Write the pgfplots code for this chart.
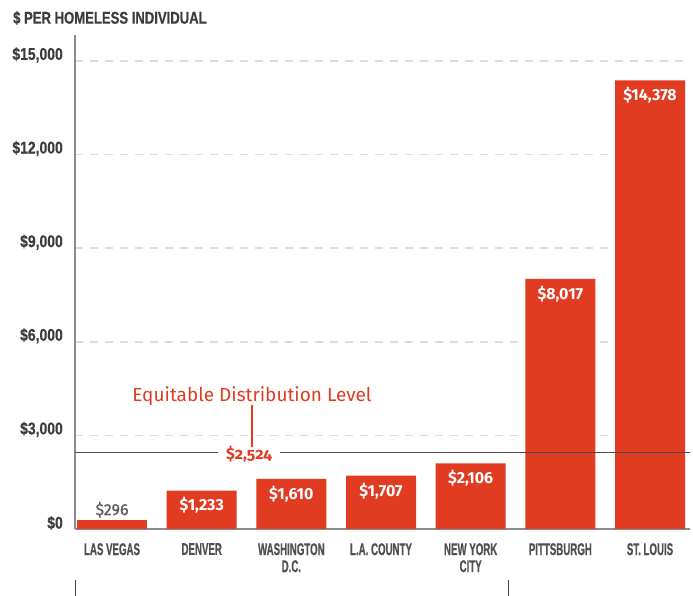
\documentclass[border=0pt]{standalone}
\usepackage{fontspec}
\setmainfont{Fira Sans}
\newfontfamily\condx[FakeStretch=0.57,FakeBold=0.6]{Liberation Sans}
\newfontfamily\condn[FakeStretch=0.82,FakeBold=0.4]{Liberation Sans}
\newfontfamily\condt[FakeStretch=0.77,FakeBold=0.5]{Liberation Sans}
\newfontfamily\fsold[Numbers=OldStyle]{Fira Sans}
\newfontfamily\fsmed[FakeBold=0.5]{Fira Sans}
\usepackage{pgfplots}
\pgfplotsset{compat=1.18}
\definecolor{barred}{HTML}{E13B22}
\definecolor{txt}{HTML}{3C3C3C}
\definecolor{grd}{HTML}{DDDDDD}
\definecolor{axc}{HTML}{8C8C8C}
\begin{document}
\begin{tikzpicture}
\useasboundingbox (-75pt,-67pt) rectangle (618pt,529pt);
\begin{axis}[
  at={(0,0)}, anchor=south west, scale only axis,
  width=615pt, height=494pt,
  xmin=-0.413, xmax=6.446, ymin=0, ymax=15830,
  axis x line*=bottom, axis y line*=left,
  axis line style={axc, line width=1.3pt, -},
  major tick length=0pt,
  scaled y ticks=false,
  ytick={0,3000,6000,9000,12000,15000},
  yticklabels={\$0,\$3{,}000,\$6{,}000,\$9{,}000,\$12{,}000,\$15{,}000},
  yticklabel style={font=\condn\bfseries\fontsize{17}{17}\selectfont, txt, anchor=east, inner sep=0pt, xshift=-12pt, yshift=6pt},
  xtick={0,1,2,3,4,5,6},
  xticklabels={LAS VEGAS, DENVER, WASHINGTON\\D.C., L.A. COUNTY, NEW YORK\\CITY, PITTSBURGH, ST. LOUIS},
  xticklabel style={font=\condx\bfseries\fontsize{17}{17}\selectfont, txt!90, anchor=north, align=center, inner sep=0pt, yshift=-14pt},
  ymajorgrids,
  grid style={grd, dash pattern=on 8pt off 7pt, line width=1.5pt},
  clip=false,
  /pgf/number format/.cd, 1000 sep={,}, assume math mode=true,
]
\addplot[ybar, bar shift=0pt, bar width=70pt, fill=barred, draw=none,
  nodes near coords={\$\pgfmathprintnumber{\pgfplotspointmeta}},
  every node near coord/.append style={font=\fsmed\fontsize{16}{16}\selectfont, black!65, anchor=south, inner sep=2pt}]
  coordinates {(0,296)};
\addplot[ybar, bar shift=0pt, bar width=70pt, fill=barred, draw=none,
  nodes near coords={\$\pgfmathprintnumber{\pgfplotspointmeta}},
  every node near coord/.append style={font=\bfseries\fontsize{16}{16}\selectfont, white, anchor=north, inner sep=0pt, yshift=-7pt}]
  coordinates {(1,1233) (2,1610) (3,1707) (4,2106) (5,8017) (6,14378)};
\addplot[black!70, line width=1.2pt, forget plot] coordinates {(-0.413,2450) (1.18,2450)};
\addplot[black!70, line width=1.2pt, forget plot] coordinates {(1.87,2450) (6.446,2450)};
\addplot[barred, line width=1.2pt, forget plot] coordinates {(1.561,2640) (1.561,3974)};
\node[font=\fsold\bfseries\fontsize{16}{16}\selectfont, barred, inner sep=0pt] at (axis cs:1.528,2410) {\$2,524};
\node[font=\fontsize{19}{19}\selectfont, barred, anchor=base, inner sep=0pt] at (axis cs:1.561,4070) {Equitable Distribution Level};
\end{axis}
\node[font=\condt\bfseries\fontsize{17}{17}\selectfont, txt, anchor=west, inner sep=0pt] at (-62pt,511pt) {\$ PER HOMELESS INDIVIDUAL};
\draw[black!75, line width=1pt] (0pt,-51pt) -- (0pt,-67pt);
\draw[black!75, line width=1pt] (433pt,-51pt) -- (433pt,-67pt);
\end{tikzpicture}
\end{document}
